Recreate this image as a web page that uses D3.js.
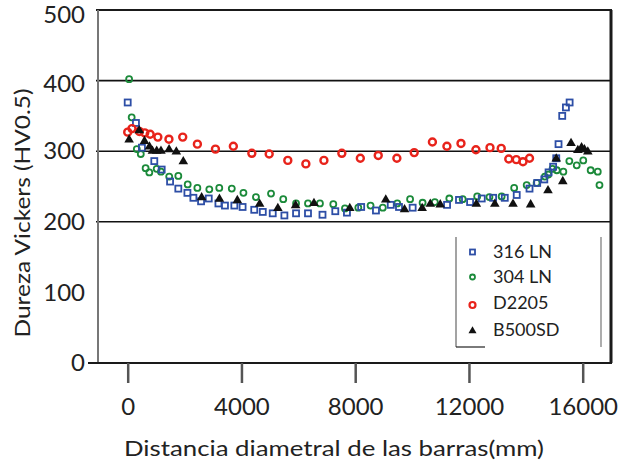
<!DOCTYPE html>
<html><head><meta charset="utf-8">
<script src="https://cdn.jsdelivr.net/npm/d3@7"></script>
<style>body{margin:0;background:#fff}svg{display:block}text{font-family:Lato,"Open Sans",sans-serif;fill:#222}</style>
</head><body><svg id="c" width="620" height="463"></svg>
<script>
const xTicks=[0,4000,8000,12000,16000];
const yTicks=[0,100,200,300,400,500];
const gridVals=[200,300,400];
const seriesNames=["316 LN","304 LN","D2205","B500SD"];
const ln316X=[0,290,500,935,1195,1490,1780,2100,2310,2580,2850,3190,3420,3750,4040,4450,4750,5100,5510,5920,6340,6850,7300,7710,8210,8730,9250,9540,10020,11230,11650,12040,12450,12850,13260,13680,14130,14400,14650,14800,14960,15070,15150,15280,15410,15540];
const ln316Y=[369,340,305,286,274,257,247,241,234,229,233,226,223,223,221,217,214,212,209,212,212,210,215,213,221,216,224,221,220,224,231,228,233,234,234,238,247,255,260,270,278,290,310,350,362,369];
const ln304X=[50,140,320,460,630,760,1020,1170,1460,1780,2110,2450,2870,3220,3660,4070,4510,5040,5470,5920,6340,6760,7230,7640,8110,8540,8970,9480,9930,10370,10800,11310,11780,12290,12720,13150,13590,14030,14380,14670,14790,14940,15090,15320,15530,15790,16020,16280,16530,16590];
const ln304Y=[402,348,303,296,276,270,275,271,264,265,253,248,246,248,247,241,235,240,232,226,226,226,225,219,220,223,220,226,232,227,228,233,232,236,235,236,248,252,255,264,267,275,273,271,286,280,287,273,271,252];
const d2205X=[0,150,410,600,790,1060,1450,1935,2450,3085,3715,4365,4975,5630,6265,6900,7530,8180,8810,9465,10075,10715,11225,11720,12245,12740,13135,13400,13665,13900,14130];
const d2205Y=[327,332,328,326,324,320,317,320,310,303,307,297,296,287,282,287,297,290,294,290,298,313,307,311,302,305,304,289,288,285,290];
const b500X=[50,405,590,765,870,1020,1170,1455,1710,1955,2600,3225,3855,4640,5280,5905,6550,7810,9075,9735,10355,10640,10990,12260,12910,13550,14170,14780,15070,15300,15590,15830,15960,16060,16180];
const b500Y=[317,330,315,307,301,301,301,303,300,286,235,233,231,226,220,224,227,220,232,218,220,226,225,226,226,226,225,245,290,258,312,302,306,303,300];

const svg=d3.select("#c");
const x=d3.scaleLinear().domain([0,16000]).range([127.7,582.7]);
const y=d3.scaleLinear().domain([0,500]).range([363,10]);
const L=98,R=611;

// gridlines
svg.selectAll(".g").data(gridVals).enter().append("line")
 .attr("x1",96).attr("x2",R).attr("y1",d=>y(d)).attr("y2",d=>y(d))
 .attr("stroke","#111").attr("stroke-width",1.6);
// frame
svg.append("line").attr("x1",96).attr("x2",R+1).attr("y1",y(500)).attr("y2",y(500)).attr("stroke","#1a1a1a").attr("stroke-width",2);
svg.append("line").attr("x1",R).attr("x2",R).attr("y1",y(500)).attr("y2",y(0)).attr("stroke","#1a1a1a").attr("stroke-width",3);
svg.append("line").attr("x1",L).attr("x2",L).attr("y1",y(500)).attr("y2",y(0)).attr("stroke","#777").attr("stroke-width",2);
svg.append("line").attr("x1",88).attr("x2",R+1).attr("y1",y(0)).attr("y2",y(0)).attr("stroke","#1a1a1a").attr("stroke-width",2);

// x axis via d3 axis
const xa=svg.append("g").attr("transform","translate(0,363)")
 .call(d3.axisBottom(x).tickValues(xTicks).tickSize(20).tickPadding(15).tickFormat(d3.format("d")));
xa.select(".domain").remove();
xa.selectAll(".tick line").attr("stroke","#555").attr("stroke-width",2.5);
xa.selectAll(".tick text").attr("font-size",24).attr("font-family","Lato,sans-serif").attr("fill","#222");

// y axis labels
const yOff={500:5,400:3};
const ya=svg.append("g").attr("transform","translate("+L+",0)")
 .call(d3.axisLeft(y).tickValues(yTicks).tickSize(0).tickPadding(13).tickFormat(d3.format("d")));
ya.select(".domain").remove();
ya.selectAll(".tick text").attr("font-size",24).attr("font-family","Lato,sans-serif").attr("fill","#222")
 .attr("transform",d=>"translate(0,"+(yOff[d]||0)+")");

// titles
svg.append("text").attr("x",334).attr("y",456).attr("text-anchor","middle").attr("font-size",22)
 .attr("textLength",420).attr("lengthAdjust","spacingAndGlyphs")
 .text("Distancia diametral de las barras(mm)");
svg.append("text").attr("transform","translate(30,213) rotate(-90)").attr("text-anchor","middle").attr("font-size",22)
 .attr("textLength",249).attr("lengthAdjust","spacingAndGlyphs")
 .text("Dureza Vickers (HV0.5)");

function pts(X,Y){return X.map((v,i)=>({x:v,y:Y[i]}));}
const gS=svg.append("g");
// green circles
gS.selectAll(".p304").data(pts(ln304X,ln304Y)).enter().append("circle")
 .attr("cx",d=>x(d.x)).attr("cy",d=>y(d.y)).attr("r",3)
 .attr("fill","none").attr("stroke","#1b8a3a").attr("stroke-width",1.8);
// blue squares
gS.selectAll(".p316").data(pts(ln316X,ln316Y)).enter().append("rect")
 .attr("x",d=>x(d.x)-3).attr("y",d=>y(d.y)-3).attr("width",6).attr("height",6)
 .attr("fill","none").attr("stroke","#2d4ea6").attr("stroke-width",1.8);
// red
gS.selectAll(".p2205").data(pts(d2205X,d2205Y)).enter().append("circle")
 .attr("cx",d=>x(d.x)).attr("cy",d=>y(d.y)).attr("r",3.5)
 .attr("fill","none").attr("stroke","#e8231b").attr("stroke-width",2.4);
// black triangles
const tri=d3.symbol().type(d3.symbolTriangle).size(40);
gS.selectAll(".pb").data(pts(b500X,b500Y)).enter().append("path")
 .attr("d",tri).attr("transform",d=>"translate("+x(d.x)+","+(y(d.y)+0.5)+")")
 .attr("fill","#111");

// legend
svg.append("line").attr("x1",456).attr("x2",456).attr("y1",237).attr("y2",347).attr("stroke","#666").attr("stroke-width",1.2);
svg.append("line").attr("x1",601).attr("x2",601).attr("y1",237).attr("y2",347).attr("stroke","#777").attr("stroke-width",1.2);
svg.append("line").attr("x1",456).attr("x2",485).attr("y1",347).attr("y2",347).attr("stroke","#222").attr("stroke-width",1.2);
const legY=[252,277,303,330];
const lg=svg.append("g");
lg.append("rect").attr("x",470).attr("y",legY[0]-2.5).attr("width",5).attr("height",5).attr("fill","none").attr("stroke","#2d4ea6").attr("stroke-width",1.8);
lg.append("circle").attr("cx",472.5).attr("cy",legY[1]).attr("r",2.5).attr("fill","none").attr("stroke","#1b8a3a").attr("stroke-width",1.8);
lg.append("circle").attr("cx",472.5).attr("cy",legY[2]+2).attr("r",3).attr("fill","none").attr("stroke","#e8231b").attr("stroke-width",2.2);
lg.append("path").attr("d",d3.symbol().type(d3.symbolTriangle).size(28)).attr("transform","translate(472.5,"+(legY[3]+1)+")").attr("fill","#111");
lg.selectAll("text").data(seriesNames).enter().append("text")
 .attr("x",493).attr("y",(d,i)=>legY[i]).attr("dy","0.35em").attr("font-size",18).text(d=>d);
</script></body></html>
